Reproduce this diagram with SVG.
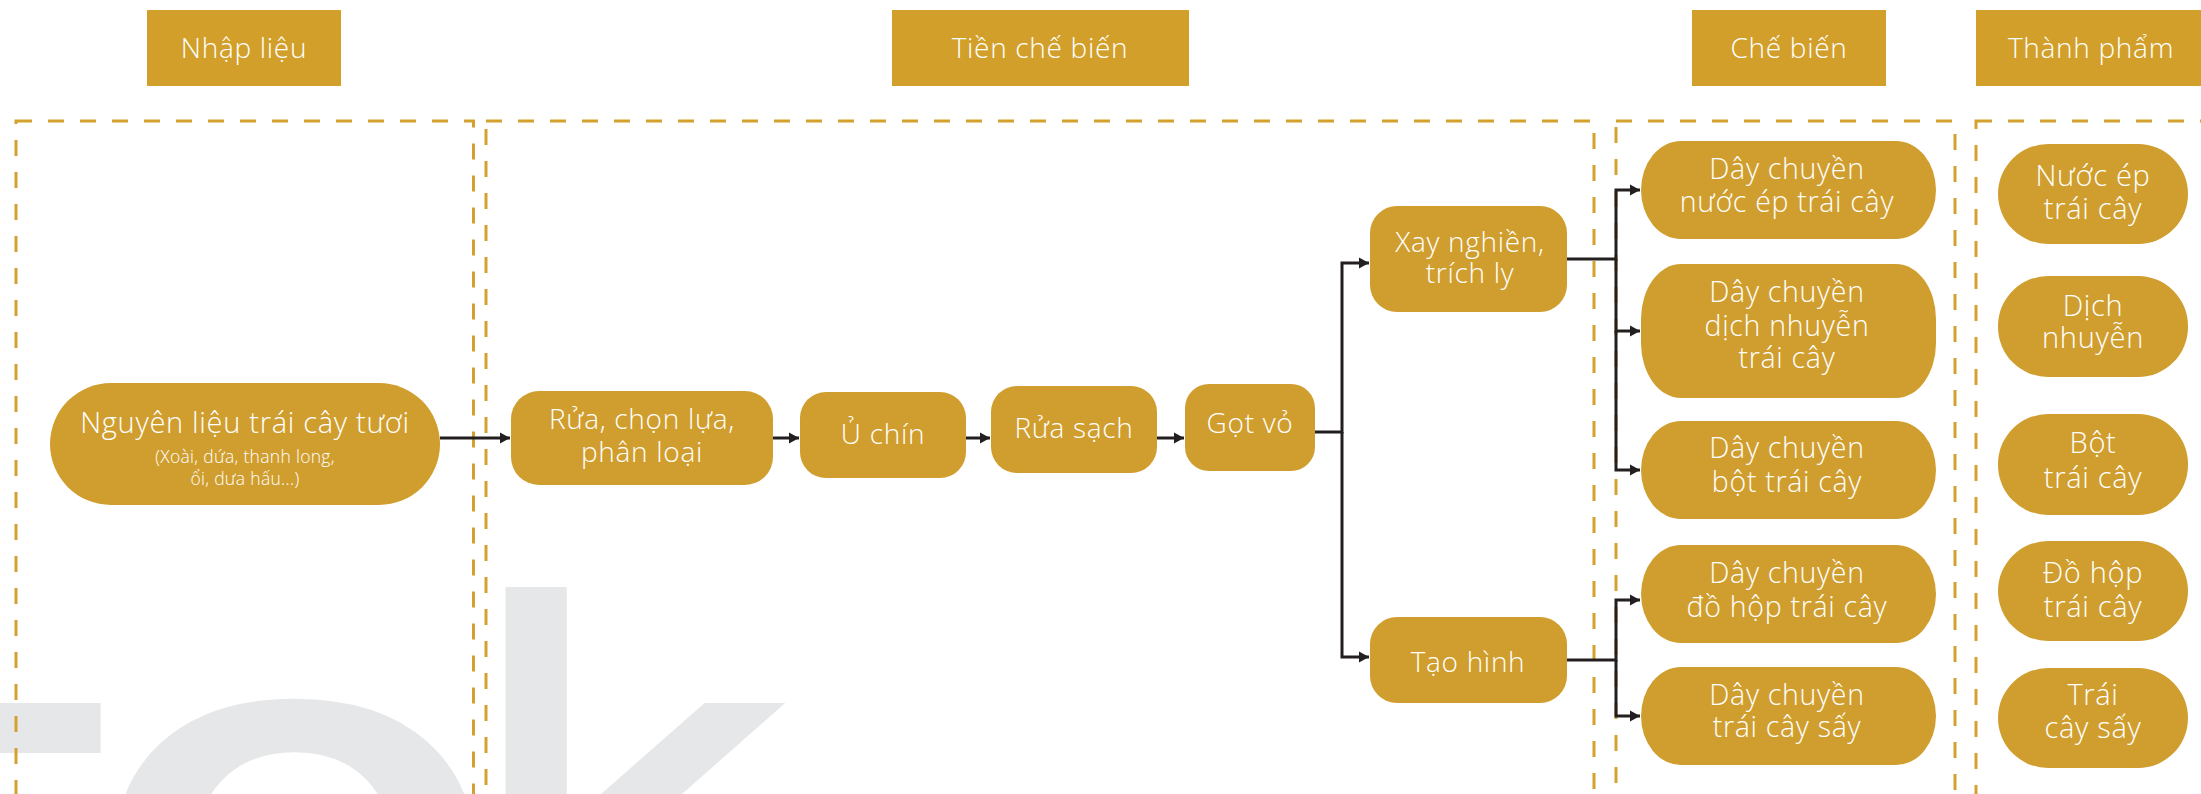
<svg xmlns="http://www.w3.org/2000/svg" width="2201" height="794" viewBox="0 0 2201 794">
<defs>
<style>
.hdr{fill:#d29f2b}
.node{fill:#d09e2e}
.zone{fill:none;stroke:#d4a12f;stroke-width:3;stroke-dasharray:16 16}
.t{font-family:"Open Sans","Noto Sans","DejaVu Sans",sans-serif;font-weight:300;fill:#ffffff;text-anchor:middle;letter-spacing:0.7px}
.h{font-size:28px}
.n{font-size:28px}
.c{font-size:28.5px}
.p{font-size:29px}
.s{font-size:17.5px;letter-spacing:0.3px}
.wm{font-family:"DejaVu Sans",sans-serif;font-size:545px;fill:#e6e7e8;stroke:#e6e7e8;stroke-width:12}
.conn path{fill:none;stroke:#231f20;stroke-width:3}
</style>
<marker id="arr" markerUnits="userSpaceOnUse" markerWidth="11" markerHeight="12" refX="10" refY="6" orient="auto">
<path d="M0,0.5 L10,6 L0,11.5 z" fill="#231f20"/>
</marker>
</defs>
<rect width="2201" height="794" fill="#ffffff"/>

<g id="watermark">
<text class="wm" transform="translate(-261,1007) scale(1.75,1)" x="0" y="0">t</text>
<text class="wm" transform="translate(295,1010) scale(1.27,1)" x="-167" y="0">o</text>
<text class="wm" x="462" y="1007">k</text>
</g>

<g id="zones">
<rect class="zone" x="16" y="121" width="457.5" height="760"/>
<rect class="zone" x="486" y="121" width="1108" height="760"/>
<rect class="zone" x="1616" y="121" width="339" height="760"/>
<rect class="zone" x="1976" y="121" width="300" height="760"/>
</g>

<g id="header-nhap-lieu"><rect class="hdr" x="147" y="10" width="194" height="76"/><text class="t h" x="244" y="58">Nhập liệu</text></g>
<g id="header-tien-che-bien"><rect class="hdr" x="892" y="10" width="297" height="76"/><text class="t h" x="1040" y="58">Tiền chế biến</text></g>
<g id="header-che-bien"><rect class="hdr" x="1692" y="10" width="194" height="76"/><text class="t h" x="1789" y="58">Chế biến</text></g>
<g id="header-thanh-pham"><rect class="hdr" x="1976" y="10" width="230" height="76"/><text class="t h" x="2091" y="58">Thành phẩm</text></g>

<g id="node-nguyen-lieu"><rect class="node" x="50" y="383" width="390" height="122" rx="61"/>
<text class="t" style="font-size:29px" x="245" y="433">Nguyên liệu trái cây tươi</text>
<text class="t s" x="245" y="463">(Xoài, dứa, thanh long,</text>
<text class="t s" x="245" y="485">ổi, dưa hấu...)</text></g>

<g id="node-rua-chon"><rect class="node" x="511" y="391" width="262" height="94" rx="28"/>
<text class="t n" x="642" y="429">Rửa, chọn lựa,</text><text class="t n" x="642" y="462">phân loại</text></g>
<g id="node-u-chin"><rect class="node" x="800" y="392" width="166" height="86" rx="26"/>
<text class="t n" x="883" y="444">Ủ chín</text></g>
<g id="node-rua-sach"><rect class="node" x="991" y="386" width="166" height="87" rx="26"/>
<text class="t n" x="1074" y="438">Rửa sạch</text></g>
<g id="node-got-vo"><rect class="node" x="1185" y="384" width="130" height="87" rx="24"/>
<text class="t n" x="1250" y="433">Gọt vỏ</text></g>

<g id="node-xay"><rect class="node" x="1370" y="206" width="197" height="106" rx="27"/>
<text class="t n" x="1470" y="252">Xay nghiền,</text><text class="t n" x="1470" y="283">trích ly</text></g>
<g id="node-tao-hinh"><rect class="node" x="1370" y="617" width="197" height="86" rx="27"/>
<text class="t n" x="1468" y="672">Tạo hình</text></g>

<g id="node-dc-nuoc-ep"><rect class="node" x="1641" y="141" width="295" height="98" rx="40" ry="49"/>
<text class="t c" x="1787" y="179">Dây chuyền</text><text class="t c" x="1787" y="212">nước ép trái cây</text></g>
<g id="node-dc-dich"><rect class="node" x="1641" y="264" width="295" height="134" rx="40" ry="55"/>
<text class="t c" x="1787" y="302">Dây chuyền</text><text class="t c" x="1787" y="336">dịch nhuyễn</text><text class="t c" x="1787" y="368">trái cây</text></g>
<g id="node-dc-bot"><rect class="node" x="1641" y="421" width="295" height="98" rx="40" ry="49"/>
<text class="t c" x="1787" y="458">Dây chuyền</text><text class="t c" x="1787" y="492">bột trái cây</text></g>
<g id="node-dc-do-hop"><rect class="node" x="1641" y="545" width="295" height="98" rx="40" ry="49"/>
<text class="t c" x="1787" y="583">Dây chuyền</text><text class="t c" x="1787" y="617">đồ hộp trái cây</text></g>
<g id="node-dc-say"><rect class="node" x="1641" y="667" width="295" height="98" rx="40" ry="49"/>
<text class="t c" x="1787" y="705">Dây chuyền</text><text class="t c" x="1787" y="737">trái cây sấy</text></g>

<g id="node-sp-nuoc-ep"><rect class="node" x="1998" y="144" width="190" height="100" rx="50"/>
<text class="t p" x="2093" y="186">Nước ép</text><text class="t p" x="2093" y="219">trái cây</text></g>
<g id="node-sp-dich"><rect class="node" x="1998" y="276" width="190" height="101" rx="50"/>
<text class="t p" x="2093" y="316">Dịch</text><text class="t p" x="2093" y="348">nhuyễn</text></g>
<g id="node-sp-bot"><rect class="node" x="1998" y="414" width="190" height="101" rx="50"/>
<text class="t p" x="2093" y="453">Bột</text><text class="t p" x="2093" y="488">trái cây</text></g>
<g id="node-sp-do-hop"><rect class="node" x="1998" y="541" width="190" height="100" rx="50"/>
<text class="t p" x="2093" y="583">Đồ hộp</text><text class="t p" x="2093" y="617">trái cây</text></g>
<g id="node-sp-say"><rect class="node" x="1998" y="668" width="190" height="100" rx="50"/>
<text class="t p" x="2093" y="705">Trái</text><text class="t p" x="2093" y="738">cây sấy</text></g>

<g id="connectors" class="conn">
<path d="M440,438 H510" marker-end="url(#arr)"/>
<path d="M773,438 H799" marker-end="url(#arr)"/>
<path d="M966,438 H990" marker-end="url(#arr)"/>
<path d="M1157,438 H1184" marker-end="url(#arr)"/>
<path d="M1315,432 H1342 V263 H1369" marker-end="url(#arr)"/>
<path d="M1342,432 V657 H1369" marker-end="url(#arr)"/>
<path d="M1567,259 H1616 V190 H1640" marker-end="url(#arr)"/>
<path d="M1616,259 V331 H1640" marker-end="url(#arr)"/>
<path d="M1616,331 V470 H1640" marker-end="url(#arr)"/>
<path d="M1567,660 H1616 V600 H1640" marker-end="url(#arr)"/>
<path d="M1616,660 V716 H1640" marker-end="url(#arr)"/>
</g>
</svg>
